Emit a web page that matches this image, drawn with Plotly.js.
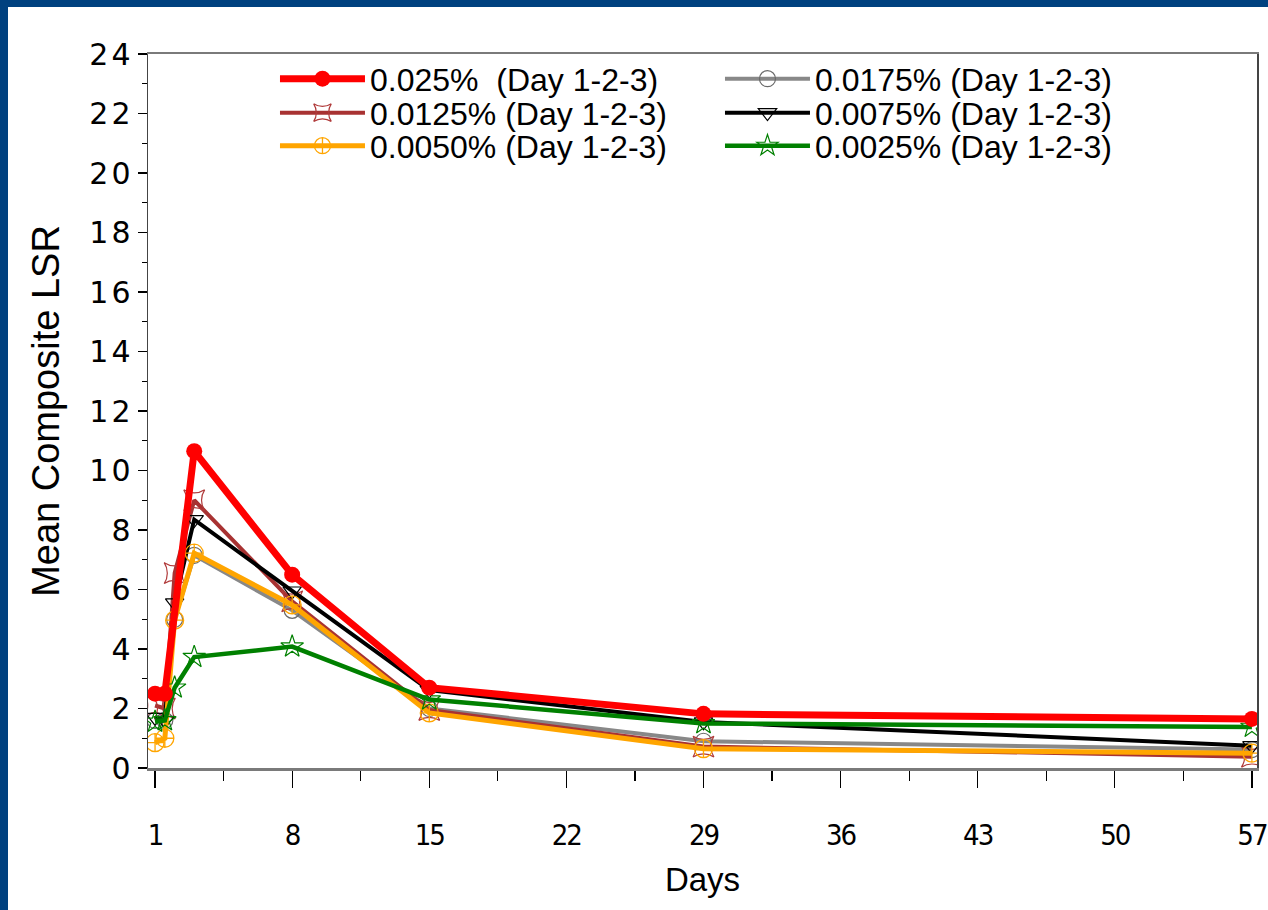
<!DOCTYPE html>
<html>
<head>
<meta charset="utf-8">
<script src="https://cdn.plot.ly/plotly-3.0.1.min.js"></script>
<style>
  html, body { margin: 0; padding: 0; background: #00417F; width: 1268px; height: 910px; overflow: hidden; }
  #wrap { position: absolute; left: 8px; top: 7px; width: 1260px; height: 903px; background: #ffffff; }
  #chart { width: 1260px; height: 903px; }
  .ytick text { letter-spacing: 3px; }
  .xtick text { letter-spacing: -2px; }
</style>
</head>
<body>
<div id="wrap"><div id="chart"></div></div>
<script>
// Study days of the assessments
const days = [1, 1.5, 2, 3, 8, 15, 29, 57];

// Mean composite LSR per concentration (null = no assessment shown)
const c0250 = [2.5, 2.5, null, 10.65, 6.5, 2.7, 1.82, 1.65];
const c0175 = [1.6, 1.6, 5.0, 7.15, 5.3, 2.0, 0.9, 0.62];
const c0125 = [2.1, 2.0, 6.55, 9.0, 5.6, 1.95, 0.72, 0.38];
const c0075 = [1.7, 1.6, 5.55, 8.35, 5.95, 2.62, 1.55, 0.75];
const c0050 = [0.85, 1.0, 4.97, 7.22, 5.48, 1.85, 0.65, 0.5];
const c0025 = [1.55, 1.6, 2.7, 3.73, 4.08, 2.3, 1.5, 1.38];

const seriesNames = [
  "0.025%\u00a0 (Day 1-2-3)",
  "0.0175% (Day 1-2-3)",
  "0.0125% (Day 1-2-3)",
  "0.0075% (Day 1-2-3)",
  "0.0050% (Day 1-2-3)",
  "0.0025% (Day 1-2-3)"
];

const xTickVals = [1, 8, 15, 22, 29, 36, 43, 50, 57];
const yTickVals = [0, 2, 4, 6, 8, 10, 12, 14, 16, 18, 20, 22, 24];

const traces = [
  { x: days, y: c0175, name: seriesNames[1], legend: "legend", legendrank: 2, mode: "lines+markers",
    line: { color: "#888888", width: 4 },
    marker: { symbol: "circle-open", size: 16, color: "#6a6a6a", line: { width: 1.2 } } },
  { x: days, y: c0125, name: seriesNames[2], legend: "legend2", legendrank: 3, mode: "lines+markers",
    line: { color: "#A83232", width: 4 },
    marker: { symbol: "star-square-open", size: 19, color: "#B03A3A", line: { width: 1.2 } } },
  { x: days, y: c0075, name: seriesNames[3], legend: "legend2", legendrank: 4, mode: "lines+markers",
    line: { color: "#000000", width: 4 },
    marker: { symbol: "triangle-down-open", size: 16, color: "#000000", line: { width: 1.2 } } },
  { x: days, y: c0050, name: seriesNames[4], legend: "legend3", legendrank: 5, mode: "lines+markers",
    line: { color: "#FFA500", width: 5 },
    marker: { symbol: "circle-cross-open", size: 18, color: "#FFA500", line: { width: 1.3 } } },
  { x: days, y: c0025, name: seriesNames[5], legend: "legend3", legendrank: 6, mode: "lines+markers",
    line: { color: "#008000", width: 4.5 },
    marker: { symbol: "star-open", size: 17, color: "#008000", line: { width: 1.2 } } },
  { x: days, y: c0250, name: seriesNames[0], legend: "legend", legendrank: 1, mode: "lines+markers",
    connectgaps: true,
    line: { color: "#FF0000", width: 7 },
    marker: { symbol: "circle", size: 16, color: "#FF0000" } }
];

function rowLegend(yPos) {
  return {
    orientation: "h", x: 0.1145, y: yPos, xanchor: "left", yanchor: "middle",
    entrywidth: 345, entrywidthmode: "pixels", itemwidth: 85,
    font: { family: "Liberation Sans", size: 32, color: "#000000" },
    bgcolor: "rgba(0,0,0,0)", traceorder: "normal"
  };
}

const layout = {
  width: 1260, height: 903,
  margin: { l: 140, r: 11, t: 47, b: 142 },
  paper_bgcolor: "#ffffff",
  plot_bgcolor: "#ffffff",
  showlegend: true,
  legend: rowLegend(0.9652),
  legend2: rowLegend(0.9176),
  legend3: rowLegend(0.8713),
  xaxis: {
    range: [0.64, 57.26], tickmode: "array", tickvals: xTickVals,
    ticks: "outside", ticklen: 17, tickwidth: 1.2, tickcolor: "#000000",
    ticklabelstandoff: 23, ticklabeloverflow: "allow",
    minor: { tick0: 1, dtick: 3.5, ticks: "outside", ticklen: 10, tickwidth: 1.2, tickcolor: "#000000", showgrid: false },
    showgrid: false, zeroline: false,
    showline: true, linecolor: "#7a7a7a", linewidth: 2.5, mirror: true,
    tickfont: { family: "Liberation Sans Narrow, DejaVu Sans Condensed, Liberation Sans", size: 29, color: "#000000" },
    title: { text: "Days", standoff: 17, font: { family: "Liberation Sans", size: 33, color: "#000000" } }
  },
  yaxis: {
    range: [0, 24], tickmode: "array", tickvals: yTickVals,
    ticks: "outside", ticklen: 9, tickwidth: 1.2, tickcolor: "#000000",
    ticklabelstandoff: -2,
    minor: { dtick: 1, ticks: "outside", ticklen: 5, tickwidth: 1.2, tickcolor: "#000000", showgrid: false },
    showgrid: false, zeroline: false,
    showline: true, linecolor: "#444444", linewidth: 1.5, mirror: true,
    tickfont: { family: "DejaVu Sans", size: 30, color: "#000000" },
    title: { text: "Mean Composite LSR", standoff: 18, font: { family: "Liberation Sans", size: 38, color: "#000000" } }
  }
};

Plotly.newPlot("chart", traces, layout, { displayModeBar: false, staticPlot: true });
</script>
</body>
</html>
